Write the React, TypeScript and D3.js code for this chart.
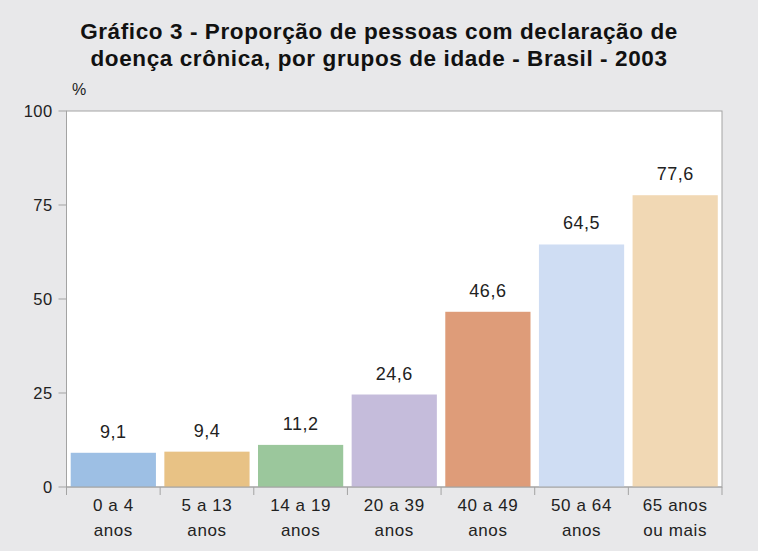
import React from 'react';
import * as d3 from 'd3';

const categories = ['0 a 4|anos', '5 a 13|anos', '14 a 19|anos', '20 a 39|anos', '40 a 49|anos', '50 a 64|anos', '65 anos|ou mais'];
const values = [9.1, 9.4, 11.2, 24.6, 46.6, 64.5, 77.6];
const colors = ['#9dbfe4', '#e8c285', '#9bc79c', '#c5bcdb', '#de9c79', '#cfddf3', '#f1d8b4'];
const yTicks = [0, 25, 50, 75, 100];
const titleLines = ['Gráfico 3 - Proporção de pessoas com declaração de', 'doença crônica, por grupos de idade - Brasil - 2003'];

const W = 758;
const H = 551;
const margin = { top: 111, right: 36, bottom: 64, left: 66.5 };

const App = () => {
    const innerW = W - margin.left - margin.right;
    const innerH = H - margin.top - margin.bottom;

    const x = d3.scaleBand<string>().domain(categories).range([0, innerW]).paddingInner(0.09).paddingOuter(0.045);
    const y = d3.scaleLinear().domain([0, 100]).range([innerH, 0]);
    const step = x.step();
    const half = (step * 0.09) / 2;
    const font = '"Liberation Sans", Arial, sans-serif';
    const axisColor = '#a3a3a3';
    const txt = '#222';

    return (
        <svg width={W} height={H} style={{ position: 'absolute', left: 0, top: 0, background: '#e8e8ea' }} fontFamily={font}>
            {titleLines.map((t, i) => (
                <text key={i} x={379} y={39 + i * 27} textAnchor="middle" fontSize={22.5} fontWeight="bold" fill="#111" letterSpacing={0.6}>
                    {t}
                </text>
            ))}
            <text x={72} y={95} fontSize={16} fill={txt}>%</text>
            <g transform={`translate(${margin.left},${margin.top})`}>
                <rect x={0} y={0} width={innerW} height={innerH} fill="#fff" stroke={axisColor} strokeWidth={1} />
                {categories.map((c, i) => (
                    <rect key={c} x={x(c)} y={y(values[i])} width={x.bandwidth()} height={innerH - y(values[i])} fill={colors[i]} />
                ))}
                {categories.map((c, i) => (
                    <text key={c} x={(x(c) ?? 0) + x.bandwidth() / 2} y={y(values[i]) - 15} textAnchor="middle" fontSize={18} fill={txt} letterSpacing={0.5}>
                        {values[i].toFixed(1).replace('.', ',')}
                    </text>
                ))}
                <line x1={0} x2={innerW} y1={innerH} y2={innerH} stroke={axisColor} />
                {yTicks.map(t => (
                    <g key={t} transform={`translate(0,${y(t)})`}>
                        <line x1={-8} x2={0} stroke={axisColor} />
                        <text x={-14} dy="0.35em" textAnchor="end" fontSize={16.5} fill={txt} letterSpacing={0.4}>{t}</text>
                    </g>
                ))}
                {categories.map((c, i) => (
                    <line key={c} x1={(x(c) ?? 0) - half} x2={(x(c) ?? 0) - half} y1={innerH} y2={innerH + 8} stroke={axisColor} />
                ))}
                <line x1={innerW} x2={innerW} y1={innerH} y2={innerH + 8} stroke={axisColor} />
                {categories.map(c => (
                    <text key={c} textAnchor="middle" fontSize={17} fill={txt} letterSpacing={0.6}>
                        {c.split('|').map((l, j) => (
                            <tspan key={j} x={(x(c) ?? 0) + x.bandwidth() / 2} y={innerH + 24 + j * 25}>{l}</tspan>
                        ))}
                    </text>
                ))}
            </g>
        </svg>
    );
};

export default App;
